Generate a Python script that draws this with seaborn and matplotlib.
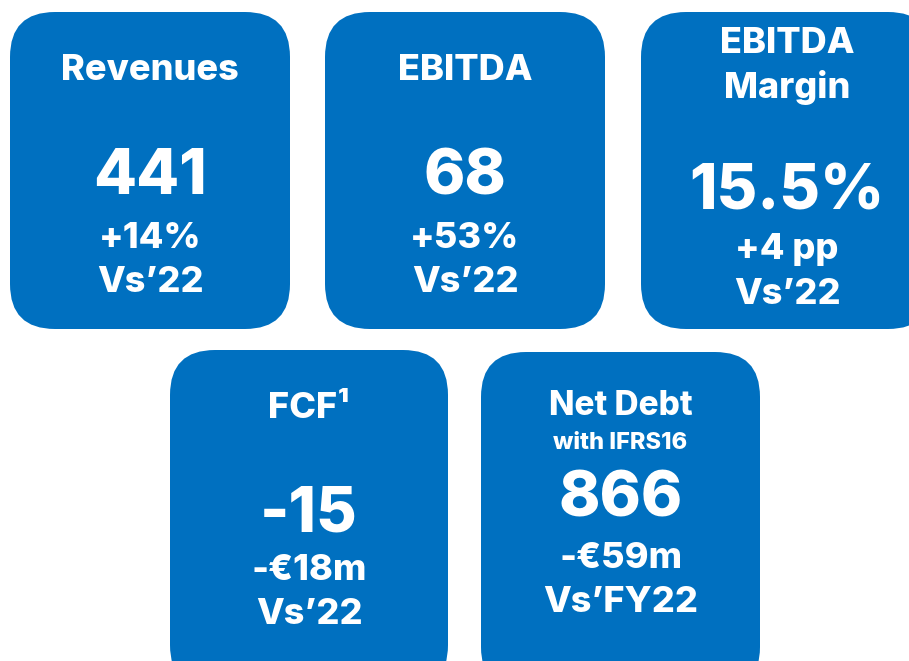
import matplotlib
matplotlib.use("Agg")
import matplotlib.pyplot as plt
from matplotlib.patches import FancyBboxPatch
import seaborn as sns

# KPI cards (values in € m)
titles = ["Revenues", "EBITDA", "EBITDA\nMargin", "FCF¹", "Net Debt"]
subtitles = ["", "", "", "", "with IFRS16"]
values = ["441", "68", "15.5%", "-15", "866"]
changes = ["+14%", "+53%", "+4 pp", "-€18m", "-€59m"]
compare = ["Vs’22", "Vs’22", "Vs’22", "Vs’22", "Vs’FY22"]

# card layout in pixels: left, top, width, height, and text rows (y)
cards = [
    dict(x=10, y=12, w=280, h=317, ty=70, vy=178, cy=238, ry=282),
    dict(x=325, y=12, w=280, h=317, ty=71, vy=178, cy=238, ry=282),
    dict(x=641, y=12, w=292, h=317, ty=66, vy=193, cy=249, ry=295),
    dict(x=170, y=350, w=278, h=340, ty=408, vy=515, cy=571, ry=615),
    dict(x=481, y=352, w=279, h=340, ty=406, vy=500, cy=558, ry=603),
]
sub_y = 443

blue = "#0070C0"

sns.set_theme(style="white")
plt.rcParams["font.family"] = ["Inter", "DejaVu Sans"]

fig = plt.figure(figsize=(9.09, 6.61), dpi=100)
ax = fig.add_axes([0, 0, 1, 1])
ax.set_xlim(0, 909)
ax.set_ylim(661, 0)
ax.axis("off")

for i, c in enumerate(cards):
    box = FancyBboxPatch((c["x"], c["y"]), c["w"], c["h"],
                         boxstyle="round,pad=0,rounding_size=45",
                         facecolor=blue, edgecolor="none")
    ax.add_patch(box)
    cx = c["x"] + c["w"] / 2
    ax.text(cx, c["ty"], titles[i], ha="center", va="center", color="white",
            fontsize=26 if i != 4 else 24, fontweight="heavy", linespacing=1.35)
    if subtitles[i]:
        ax.text(cx, sub_y, subtitles[i], ha="center", va="center", color="white",
                fontsize=17, fontweight="heavy")
    ax.text(cx, c["vy"], values[i], ha="center", va="center", color="white",
            fontsize=45, fontweight="heavy")
    ax.text(cx, c["cy"], changes[i], ha="center", va="center", color="white",
            fontsize=26, fontweight="heavy")
    ax.text(cx, c["ry"], compare[i], ha="center", va="center", color="white",
            fontsize=26, fontweight="heavy")

fig.savefig("out.png", dpi=100)
